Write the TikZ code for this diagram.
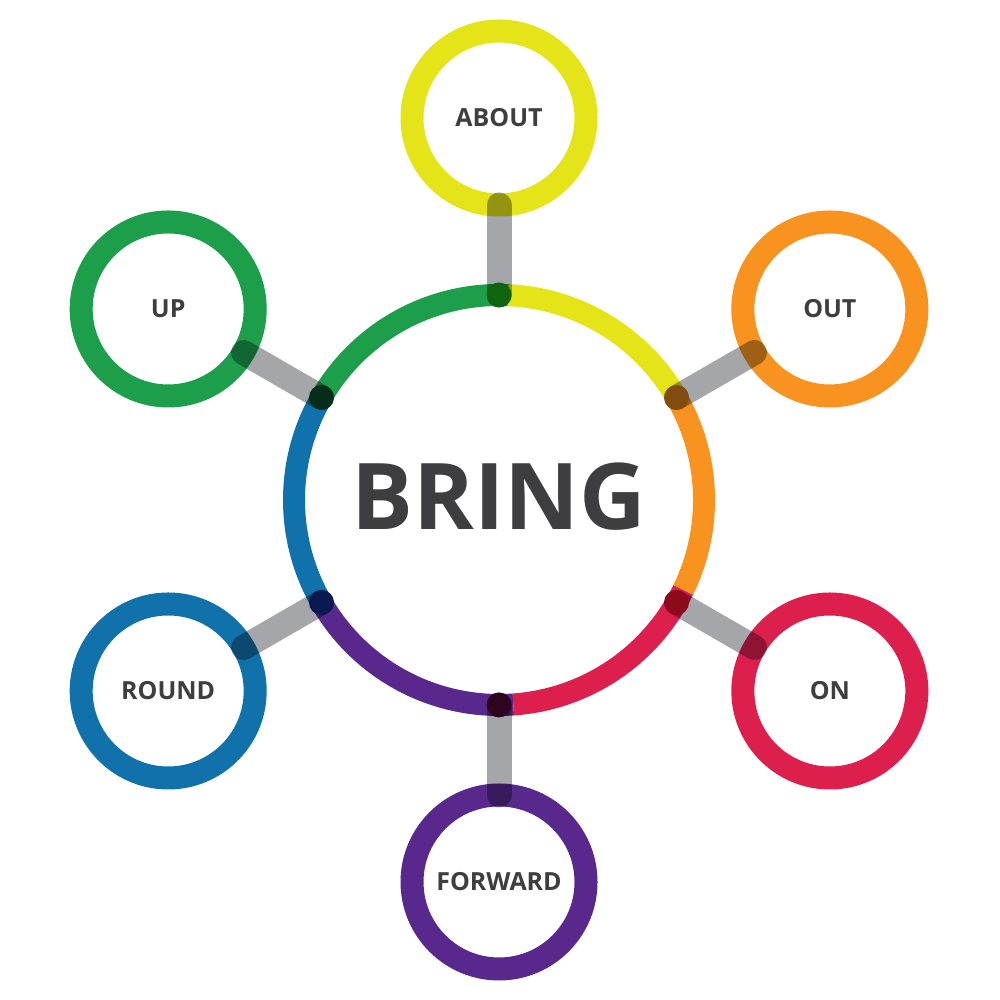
\documentclass[tikz,border=0pt]{standalone}
\usepackage{fontspec}
\setmainfont{Open Sans}
\usetikzlibrary{calc}
\definecolor{rYellow}{RGB}{229,228,24}
\definecolor{rOrange}{RGB}{247,147,30}
\definecolor{rRed}{RGB}{221,31,77}
\definecolor{rPurple}{RGB}{88,40,140}
\definecolor{rBlue}{RGB}{17,113,170}
\definecolor{rGreen}{RGB}{28,158,74}
\definecolor{txt}{RGB}{62,62,64}
\definecolor{barc}{RGB}{165,166,170}
\definecolor{dAbout}{RGB}{15,100,15}
\definecolor{dOut}{RGB}{130,75,15}
\definecolor{dOn}{RGB}{140,10,25}
\definecolor{dForward}{RGB}{45,5,30}
\definecolor{dRound}{RGB}{10,25,80}
\definecolor{dUp}{RGB}{5,45,25}
\tikzset{
  sat/.style={circle, draw=#1, line width=0.23cm, minimum size=1.74cm, inner sep=0pt, outer sep=0pt,
    text=txt, font=\fontsize{7.1pt}{8pt}\selectfont\bfseries},
  hub/.style={circle, minimum size=4.1cm, inner sep=0pt, outer sep=0pt,
    text=txt, font=\fontsize{26.2pt}{30pt}\selectfont\bfseries},
  arcseg/.style={line width=0.22cm, draw=#1},
  bar/.style={line width=0.25cm, line cap=round, draw=barc},
  jdot/.style={fill=#1}
}
\begin{document}
\begin{tikzpicture}
\useasboundingbox (0,0) rectangle (10,10);
\fill[white] (0,0) rectangle (10,10);
\node[hub] (c) at (4.99,5.0) {\raisebox{0.15ex}{BRING}};
\node[sat=rYellow] (about) at ($(c)+(90:3.82)$) {ABOUT};
\node[sat=rOrange] (out) at ($(c)+(30:3.82)$) {OUT};
\node[sat=rRed] (on) at ($(c)+(-30:3.82)$) {ON};
\node[sat=rPurple] (forward) at ($(c)+(-90:3.82)$) {FORWARD};
\node[sat=rBlue] (round) at ($(c)+(210:3.82)$) {ROUND};
\node[sat=rGreen] (up) at ($(c)+(150:3.82)$) {UP};
% big ring arcs
\draw[arcseg=rGreen] (c.87) arc[start angle=87, end angle=150, radius=2.05cm];
\draw[arcseg=rBlue] (c.150) arc[start angle=150, end angle=210, radius=2.05cm];
\draw[arcseg=rPurple] (c.210) arc[start angle=210, end angle=274, radius=2.05cm];
\draw[arcseg=rRed] (c.274) arc[start angle=274, end angle=334, radius=2.05cm];
\draw[arcseg=rOrange] (c.334) arc[start angle=334, end angle=392, radius=2.05cm];
\draw[arcseg=rYellow] (c.32) arc[start angle=32, end angle=87.5, radius=2.05cm];
% connectors
\begin{scope}[blend mode=multiply]
\draw[bar] (c.90) -- (about.270);
\draw[bar] (c.30) -- (out.210);
\draw[bar] (c.-30) -- (on.150);
\draw[bar] (c.-90) -- (forward.90);
\draw[bar] (c.210) -- (round.30);
\draw[bar] (c.150) -- (up.-30);
\end{scope}
% junction dots
\fill[jdot=dAbout] (c.90) circle (0.125);
\fill[jdot=dOut] (c.30) circle (0.125);
\fill[jdot=dOn] (c.-30) circle (0.125);
\fill[jdot=dForward] (c.-90) circle (0.125);
\fill[jdot=dRound] (c.210) circle (0.125);
\fill[jdot=dUp] (c.150) circle (0.125);
\end{tikzpicture}
\end{document}
